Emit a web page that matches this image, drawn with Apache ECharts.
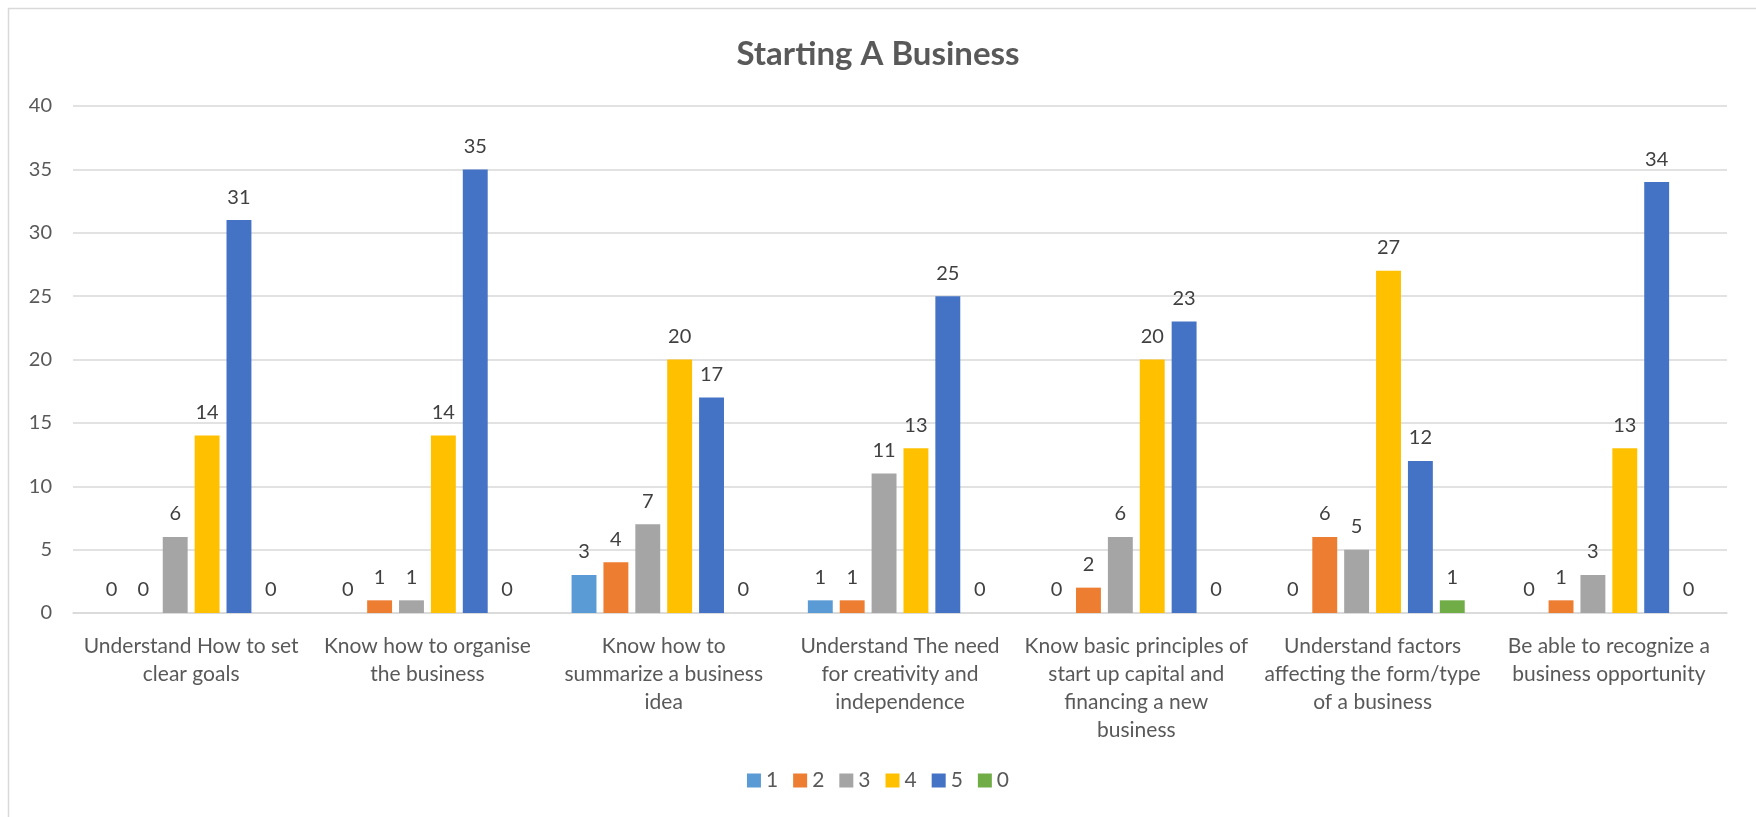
<!DOCTYPE html>
<html>
<head>
<meta charset="utf-8">
<title>Starting A Business</title>
<script src="https://cdn.jsdelivr.net/npm/echarts@6/dist/echarts.min.js"></script>
<style>
  html, body { margin: 0; padding: 0; background: #ffffff; }
  #chart1 { width: 1756px; height: 817px; }
</style>
</head>
<body>
<div id="chart1"></div>
<script>
var categories = [
  'Understand How to set\nclear goals',
  'Know how to organise\nthe business',
  'Know how to\nsummarize a business\nidea',
  'Understand The need\nfor creativity and\nindependence',
  'Know basic principles of\nstart up capital and\nfinancing a new\nbusiness',
  'Understand factors\naffecting the form/type\nof a business',
  'Be able to recognize a\nbusiness opportunity'
];
var seriesNames = ['1', '2', '3', '4', '5', '0'];
var values1 = [0, 0, 3, 1, 0, 0, 0];
var values2 = [0, 1, 4, 1, 2, 6, 1];
var values3 = [6, 1, 7, 11, 6, 5, 3];
var values4 = [14, 14, 20, 13, 20, 27, 13];
var values5 = [31, 35, 17, 25, 23, 12, 34];
var values0 = [0, 0, 0, 0, 0, 1, 0];
var colors = ['#5B9BD5', '#ED7D31', '#A5A5A5', '#FFC000', '#4472C4', '#70AD47'];

var allValues = [values1, values2, values3, values4, values5, values0];
var font = 'Lato, "Open Sans", sans-serif';

var dom = document.getElementById('chart1');
var myChart = echarts.init(dom);

var series = [];
for (var i = 0; i < seriesNames.length; i++) {
  series.push({
    name: seriesNames[i],
    type: 'bar',
    data: allValues[i],
    barGap: '28%',
    barCategoryGap: '22%',
    itemStyle: { color: colors[i] },
    label: {
      show: true,
      position: 'top',
      distance: 13,
      color: '#404040',
      fontSize: 20,
      fontFamily: font
    }
  });
}

var option = {
  backgroundColor: '#ffffff',
  animation: false,
  color: colors,
  title: {
    text: 'Starting A Business',
    left: 'center',
    top: 33,
    textStyle: {
      fontFamily: font,
      fontSize: 33,
      fontWeight: 'bold',
      color: '#595959'
    }
  },
  legend: {
    bottom: 21,
    left: 'center',
    itemWidth: 14,
    itemHeight: 14,
    itemGap: 15,
    icon: 'rect',
    textStyle: { fontFamily: font, fontSize: 21, color: '#595959' },
    data: seriesNames
  },
  grid: {
    left: 73,
    right: 29,
    top: 106,
    bottom: 204
  },
  xAxis: {
    type: 'category',
    data: categories,
    axisTick: { show: false },
    axisLine: { lineStyle: { color: '#d9d9d9', width: 1.5 } },
    axisLabel: {
      interval: 0,
      margin: 19,
      fontFamily: font,
      fontSize: 21,
      lineHeight: 28,
      color: '#595959'
    }
  },
  yAxis: {
    type: 'value',
    min: 0,
    max: 40,
    interval: 5,
    axisLine: { show: false },
    axisTick: { show: false },
    splitLine: { lineStyle: { color: '#d9d9d9', width: 1.5 } },
    axisLabel: {
      margin: 21,
      fontFamily: font,
      fontSize: 20,
      color: '#595959'
    }
  },
  graphic: [
    {
      type: 'rect',
      shape: { x: 8.5, y: 8.5, width: 1800, height: 900 },
      style: { fill: 'none', stroke: '#d9d9d9', lineWidth: 1.5 },
      silent: true
    }
  ],
  series: series
};

myChart.setOption(option);
</script>
</body>
</html>
